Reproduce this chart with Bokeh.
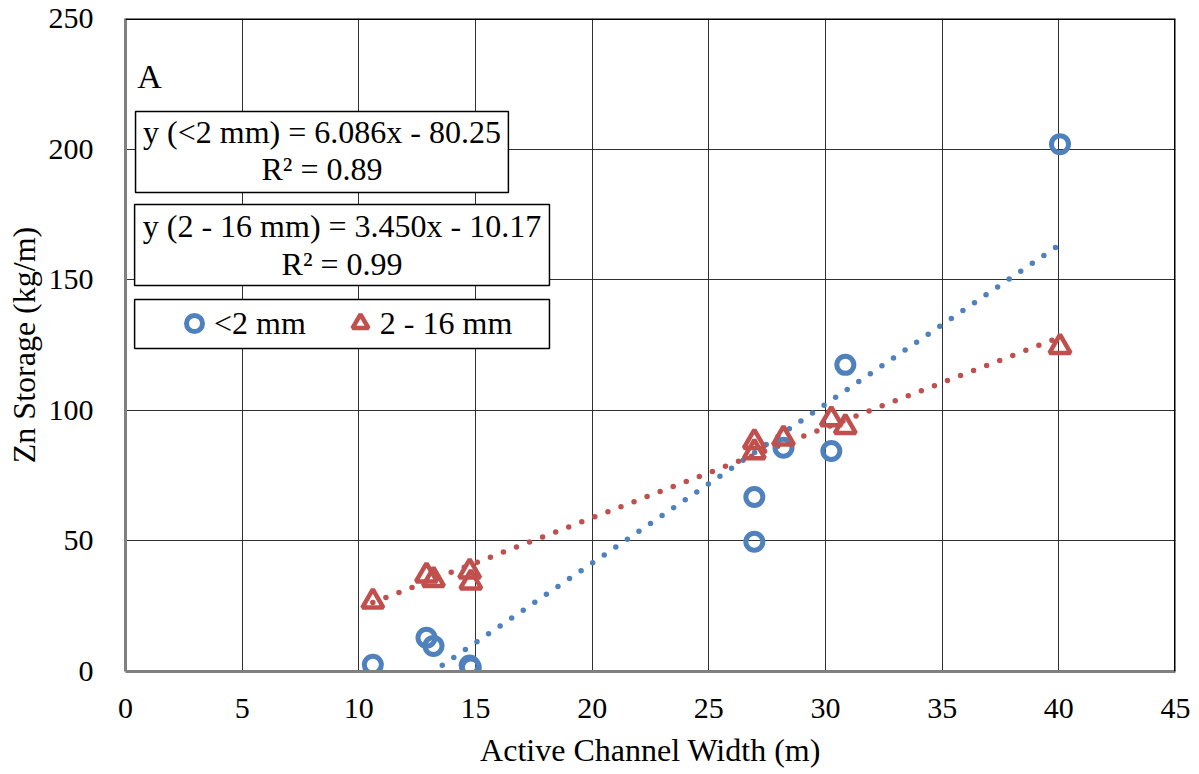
from bokeh.plotting import figure
from bokeh.models import (Range1d, Label, BoxAnnotation, Span, Legend, LegendItem,
                          SingleIntervalTicker)
from bokeh.embed import file_html
from bokeh.resources import INLINE

# Active channel width (m) of each reach
width_m = [10.6, 12.9, 13.2, 14.75, 14.8, 26.95, 26.95, 28.2, 30.25, 30.85, 40.05]
# Zn storage (kg/m) by grain-size fraction
zn_fine = [2.6, 12.9, 9.8, 2.3, 1.5, 66.8, 49.7, 85.7, 84.4, 117.4, 201.9]
zn_coarse = [26.8, 36.8, 35.1, 38.3, 34.1, 87.9, 84.0, 89.2, 96.6, 93.6, 124.3]

# Linear fits (slope, intercept, R^2)
fit_fine = (6.086, -80.25, 0.89)
fit_coarse = (3.450, -10.17, 0.99)

BLUE = "#4F81BD"
RED = "#C0504D"
FONT = "Liberation Serif"

p = figure(frame_width=1050, frame_height=653, output_backend="svg",
           toolbar_location=None, x_range=Range1d(0, 45), y_range=Range1d(0, 250),
           min_border_left=125, min_border_right=24, min_border_top=18,
           min_border_bottom=103, background_fill_color="white",
           border_fill_color="white")
p.outline_line_color = None

for ax in (p.xaxis[0], p.yaxis[0]):
    ax.major_label_text_font = FONT
    ax.major_label_text_font_size = "30px"
    ax.major_label_text_color = "black"
    ax.axis_label_text_font = FONT
    ax.axis_label_text_font_size = "32px"
    ax.axis_label_text_font_style = "normal"
    ax.axis_label_text_color = "black"
    ax.major_tick_line_color = None
    ax.minor_tick_line_color = None
    ax.major_tick_out = 0
    ax.major_tick_in = 0
    ax.axis_line_color = "#808080"
    ax.axis_line_width = 3

p.xaxis.ticker = SingleIntervalTicker(interval=5)
p.yaxis.ticker = SingleIntervalTicker(interval=50)
p.xaxis.axis_label = "Active Channel Width (m)"
p.yaxis.axis_label = "Zn Storage (kg/m)"
p.xaxis.major_label_standoff = 23
p.yaxis.major_label_standoff = 28
p.xaxis.axis_label_standoff = 11
p.yaxis.axis_label_standoff = 4

p.grid.grid_line_color = "#303030"
p.grid.grid_line_width = 1

# top and right borders of the plot area
p.add_layout(Span(location=250, dimension="width", line_color="black", line_width=3))
p.add_layout(Span(location=45, dimension="height", line_color="black", line_width=3))

# trend lines from the fitted equations
x_lo, x_hi = min(width_m), max(width_m)
for (m, b, _), col in ((fit_fine, BLUE), (fit_coarse, RED)):
    p.line([x_lo, x_hi], [m * x_lo + b, m * x_hi + b], line_color=col,
           line_width=5.5, line_dash="0 14", line_cap="round")

r_fine = p.scatter(width_m, zn_fine, marker="circle", size=17, fill_color=None,
                   line_color=BLUE, line_width=5)
r_coarse = p.scatter(width_m, zn_coarse, marker="triangle", size=21, fill_color=None,
                     line_color=RED, line_width=4.5)

p.add_layout(Label(x=0.5, y=227.8, text="A", text_font=FONT, text_font_size="34px",
                   text_color="black", text_baseline="alphabetic"))

# equation boxes
def eq_box(left, right, bottom, top):
    p.add_layout(BoxAnnotation(left=left, right=right, bottom=bottom, top=top,
                               fill_color="white", fill_alpha=1,
                               line_color="black", line_alpha=1, line_width=1.5,
                               level="annotation"))

def eq_text(x, y, txt):
    p.add_layout(Label(x=x, y=y, text=txt, text_font=FONT, text_font_size="32px",
                       text_color="black", text_align="center",
                       text_baseline="alphabetic"))

eq_box(0.43, 16.41, 183.4, 214.4)
eq_text(8.42, 206.7, f"y (<2 mm) = {fit_fine[0]:.3f}x - {abs(fit_fine[1]):.2f}")
eq_text(8.42, 192.2, f"R² = {fit_fine[2]:.2f}")

eq_box(0.39, 18.17, 147.8, 178.8)
eq_text(9.28, 170.4, f"y (2 - 16 mm) = {fit_coarse[0]:.3f}x - {abs(fit_coarse[1]):.2f}")
eq_text(9.28, 156.2, f"R² = {fit_coarse[2]:.2f}")

# legend frame
eq_box(0.39, 18.17, 123.7, 142.4)
legend = Legend(items=[LegendItem(label="<2 mm", renderers=[r_fine]),
                       LegendItem(label="2 - 16 mm", renderers=[r_coarse])],
                orientation="horizontal", location=(49, 328),
                border_line_color=None, background_fill_alpha=0,
                label_text_font=FONT, label_text_font_size="32px",
                label_text_color="black",
                glyph_width=40, glyph_height=40, label_standoff=0,
                spacing=34, padding=0, margin=0)
p.add_layout(legend, "center")

open("out.html", "w").write(file_html(p, INLINE))
